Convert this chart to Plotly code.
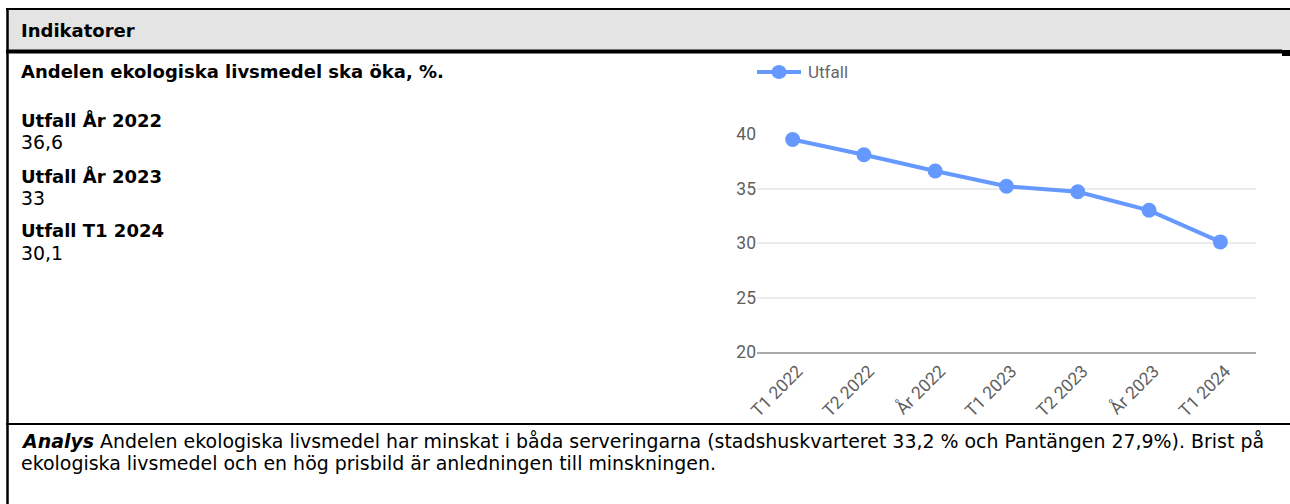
import plotly.graph_objects as go

W, H = 1290, 504

categories = ["T1 2022", "T2 2022", "År 2022", "T1 2023", "T2 2023", "År 2023", "T1 2024"]
utfall = [39.5, 38.1, 36.6, 35.2, 34.7, 33.0, 30.1]
y_ticks = [20, 25, 30, 35, 40]

header_text = "Indikatorer"
title_text = "Andelen ekologiska livsmedel ska öka, %."
kpi_labels = ["Utfall År 2022", "Utfall År 2023", "Utfall T1 2024"]
kpi_values = ["36,6", "33", "30,1"]
analys_line1 = ("Andelen ekologiska livsmedel har minskat i båda serveringarna "
                "(stadshuskvarteret 33,2 % och Pantängen 27,9%). Brist på")
analys_line2 = "ekologiska livsmedel och en hög prisbild är anledningen till minskningen."


def fx(x):
    return x / W


def fy(y):
    return 1 - y / H


BLUE = "#6699FF"
TXT = "DejaVu Sans, sans-serif"
CH = "Roboto, sans-serif"

fig = go.Figure()
fig.add_trace(go.Scatter(
    x=categories, y=utfall, mode="lines+markers", name="Utfall",
    line=dict(color=BLUE, width=4), marker=dict(color=BLUE, size=15),
    cliponaxis=False, hoverinfo="skip",
))

shapes = []
shapes.append(dict(type="rect", xref="paper", yref="paper", x0=fx(8), x1=fx(1290),
                   y0=fy(50), y1=fy(10), fillcolor="#e4e4e4", line_width=0, layer="below"))
shapes.append(dict(type="line", xref="paper", yref="paper", x0=fx(6), x1=fx(1290),
                   y0=fy(9), y1=fy(9), line=dict(color="black", width=2)))
shapes.append(dict(type="line", xref="paper", yref="paper", x0=fx(7.5), x1=fx(7.5),
                   y0=fy(8), y1=fy(504), line=dict(color="black", width=2.5)))
shapes.append(dict(type="line", xref="paper", yref="paper", x0=fx(6), x1=fx(1282),
                   y0=fy(51.5), y1=fy(51.5), line=dict(color="black", width=4)))
shapes.append(dict(type="rect", xref="paper", yref="paper", x0=fx(1282), x1=fx(1290),
                   y0=fy(56), y1=fy(50), fillcolor="black", line_width=0))
shapes.append(dict(type="line", xref="paper", yref="paper", x0=fx(6), x1=fx(1290),
                   y0=fy(424), y1=fy(424), line=dict(color="black", width=2)))
# legend glyph
shapes.append(dict(type="line", xref="paper", yref="paper", x0=fx(757), x1=fx(801),
                   y0=fy(72), y1=fy(72), line=dict(color=BLUE, width=4)))
shapes.append(dict(type="circle", xref="paper", yref="paper", x0=fx(771.5), x1=fx(786.5),
                   y0=fy(79), y1=fy(65), fillcolor=BLUE, line_width=0))
fig.update_layout(shapes=shapes)

ann = []


def txt(x, y, s, size):
    ann.append(dict(x=fx(x), y=fy(y), xref="paper", yref="paper", text=s, showarrow=False,
                    xanchor="left", yanchor="middle", font=dict(family=TXT, size=size, color="black")))


txt(19, 30, "<b>" + header_text + "</b>", 18)
txt(19, 72, "<b>" + title_text + "</b>", 18)
ys = [(120, 142), (176, 198), (231, 253)]
for (yl, yv), lab, val in zip(ys, kpi_labels, kpi_values):
    txt(19, yl, "<b>" + lab + "</b>", 18)
    txt(19, yv, val, 18.9)
txt(19, 441, "<b><i>Analys</i></b> " + analys_line1, 18.95)
txt(19, 463, analys_line2, 18.95)
ann.append(dict(x=fx(806), y=fy(72), xref="paper", yref="paper", text="Utfall", showarrow=False,
                xanchor="left", yanchor="middle", font=dict(family=CH, size=17, color="#666666")))
fig.update_layout(annotations=ann)

fig.update_layout(
    width=W, height=H, margin=dict(l=0, r=0, t=0, b=0, pad=0, autoexpand=False),
    paper_bgcolor="white", plot_bgcolor="white",
    showlegend=False,
    xaxis=dict(domain=[fx(757), fx(1256)], type="category", range=[-0.5, 6.5],
               showgrid=False, showline=True, linecolor="#aaaaaa", linewidth=2,
               tickangle=-45, ticks="", tickfont=dict(family=CH, size=17.5, color="#5f5f5f"),
               ticklabelshift=5, zeroline=False, fixedrange=True, automargin=False),
    yaxis=dict(domain=[fy(352), fy(134)], range=[20, 40], tickvals=y_ticks,
               showgrid=True, gridcolor="#ebebeb", gridwidth=1.5, zeroline=False,
               showline=False, ticks="", tickfont=dict(family=CH, size=17.5, color="#5f5f5f"),
               fixedrange=True, automargin=False),
)

fig.write_html("out.html", config={"displayModeBar": False},
               post_script="document.body.style.margin='0';document.body.style.overflow='hidden';")
